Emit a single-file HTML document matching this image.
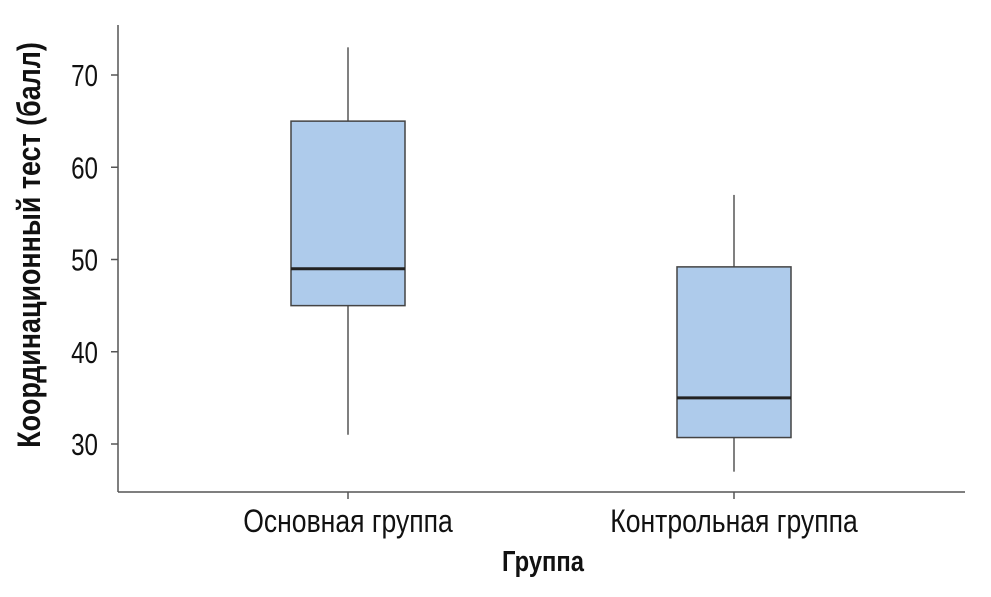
<!DOCTYPE html>
<html><head><meta charset="utf-8"><style>
body{margin:0;background:#fff;}
svg text{font-family:"Liberation Sans",sans-serif;fill:#111;}
</style></head><body>
<svg id="chart" width="991" height="592" viewBox="0 0 991 592" xmlns="http://www.w3.org/2000/svg">
<g id="axes"></g><g id="boxes"></g>
</svg>
<script>
const categories = ["Основная группа", "Контрольная группа"];
const whiskerLow = [31, 27];
const q1Values = [45, 30.7];
const medians = [49, 35];
const q3Values = [65, 49.2];
const whiskerHigh = [73, 57];
const yTicks = [30, 40, 50, 60, 70];

const NS = "http://www.w3.org/2000/svg";
const y = v => 444 + (30 - v) * 9.225;
const x = i => 348 + i * 386;
function mk(tag, attrs, parent, text){
  const e = document.createElementNS(NS, tag);
  for (const k in attrs) e.setAttribute(k, attrs[k]);
  if (text !== undefined) e.textContent = text;
  parent.appendChild(e); return e;
}
const axes = document.getElementById('axes');
const boxes = document.getElementById('boxes');
let e;
e = mk('line', {x1:118,y1:25,x2:118,y2:492,stroke:'#555','stroke-width':1.5}, axes);


e = mk('line', {x1:118,y1:492,x2:965,y2:492,stroke:'#555','stroke-width':1.5}, axes);


yTicks.forEach(t => {
  const l = mk('line', {x1:111,y1:y(t),x2:118,y2:y(t),stroke:'#555','stroke-width':1.5}, axes);
  
  
  const tx = mk('text', {x:0,y:0,'text-anchor':'end','font-size':31,transform:`translate(98,${y(t)+11}) scale(0.78,1)`}, axes, String(t));
  
  
});
categories.forEach((c, i) => {
  const cx = x(i);
  const l = mk('line', {x1:cx,y1:492,x2:cx,y2:499,stroke:'#555','stroke-width':1.5}, axes);
  
  
  const tx = mk('text', {x:0,y:0,'text-anchor':'middle','font-size':32,transform:`translate(${cx},532) scale(0.83,1)`}, axes, c);
  
  

  const g = mk('g', {}, boxes);
  
  
  mk('line', {x1:cx,y1:y(whiskerHigh[i]),x2:cx,y2:y(q3Values[i]),stroke:'#555','stroke-width':1.5}, g);
  mk('line', {x1:cx,y1:y(q1Values[i]),x2:cx,y2:y(whiskerLow[i]),stroke:'#555','stroke-width':1.5}, g);
  mk('rect', {x:cx-57,y:y(q3Values[i]),width:114,height:y(q1Values[i])-y(q3Values[i]),fill:'#aecbeb',stroke:'#444','stroke-width':1.5}, g);
  mk('line', {x1:cx-57,y1:y(medians[i]),x2:cx+57,y2:y(medians[i]),stroke:'#222','stroke-width':3}, g);
});
e = mk('text', {x:0,y:0,'text-anchor':'middle','font-size':29,'font-weight':'bold',transform:'translate(543,571) scale(0.82,1)'}, axes, 'Группа');


e = mk('text', {x:0,y:0,'text-anchor':'middle','font-size':32,'font-weight':'bold',transform:'translate(40,245) rotate(-90) scale(0.84,1)'}, axes, 'Координационный тест (балл)');


</script>
</body></html>
